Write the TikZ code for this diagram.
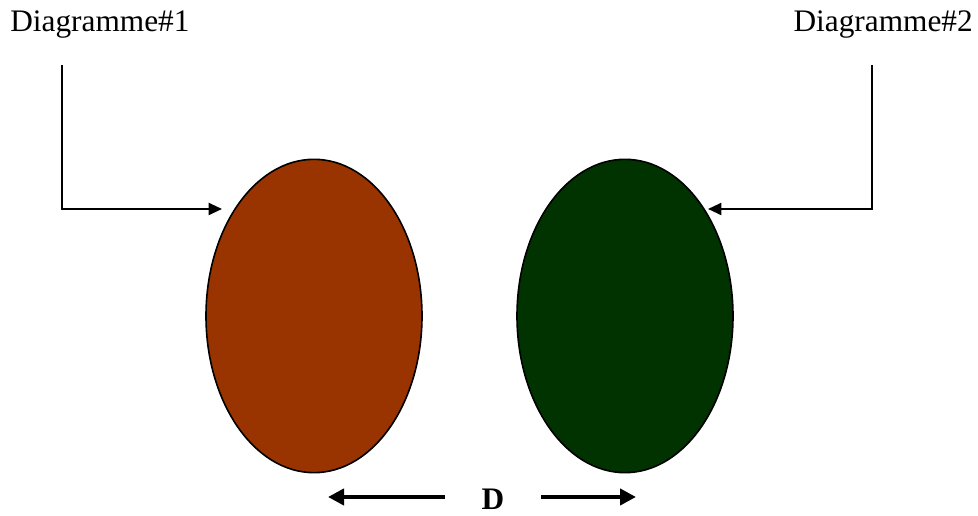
\documentclass[tikz,border=0pt]{standalone}
\usepackage{fontspec}
\setmainfont{Liberation Serif}
\usepackage{xcolor}
\usepackage{tikz}
\usetikzlibrary{arrows.meta, positioning, shapes.geometric}
\definecolor{blobBrown}{RGB}{153,51,0}
\definecolor{blobGreen}{RGB}{0,51,0}
\tikzset{
  blobNode/.style={
    ellipse,
    draw=black,
    line width=1.2pt,
    inner sep=0pt,
    minimum width=162pt,
    minimum height=235pt
  },
  labelNode/.style={inner sep=0pt, font=\fontsize{23.5}{27}\selectfont},
  distNode/.style={inner sep=0pt, minimum width=72pt, font=\fontsize{23.5}{27}\selectfont\bfseries},
  pointerFlow/.style={-{Triangle[length=10pt,width=9pt]}, line width=1.5pt, draw=black},
  distFlow/.style={-{Triangle[length=12pt,width=12pt]}, line width=3pt, draw=black}
}

\begin{document}
\begin{tikzpicture}[x=0.75pt, y=0.75pt]
  \useasboundingbox (0,0) rectangle (978,516);

  \node[blobNode, fill=blobBrown] (blobA) at (314,200) {};
  \node[blobNode, fill=blobGreen] (blobB) at (625,200) {};

  \node[labelNode, anchor=base west] (diagA) at (10,484) {Diagramme\#1};
  \node[labelNode, anchor=base east] (diagB) at (973,484) {Diagramme\#2};
  \node[distNode, anchor=base] (dist) at (493,6) {D};

  \coordinate (startA) at (62,451);
  \coordinate (tipA) at (222,307);
  \coordinate (startB) at (872,451);
  \coordinate (tipB) at (708,307);
  \coordinate (tipL) at (328,19);
  \coordinate (tipR) at (636,19);

  \draw[pointerFlow] (startA) |- (tipA);
  \draw[pointerFlow] (startB) |- (tipB);
  \draw[distFlow] (dist.west |- tipL) -- (tipL);
  \draw[distFlow] (dist.east |- tipR) -- (tipR);
\end{tikzpicture}
\end{document}
